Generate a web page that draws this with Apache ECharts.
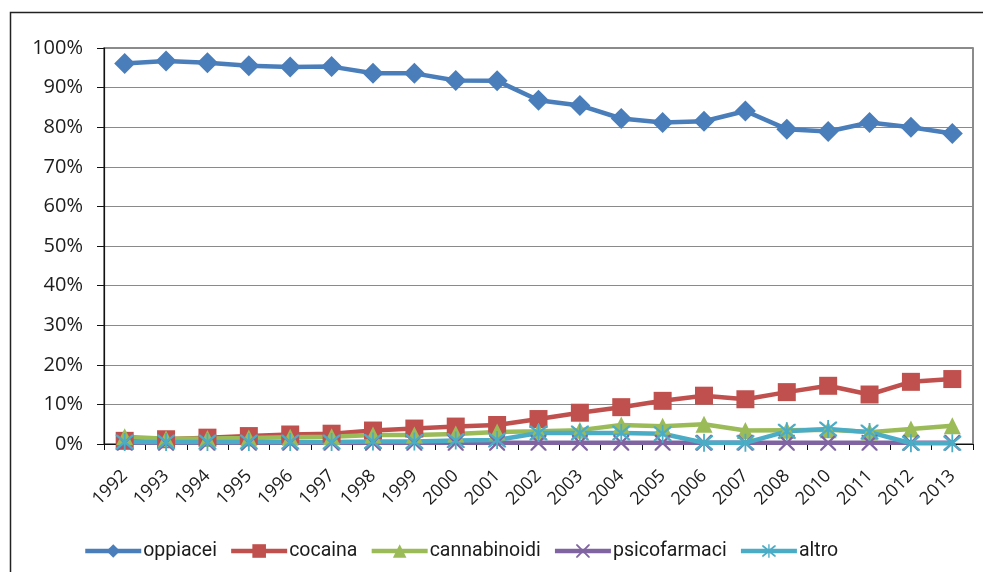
<!DOCTYPE html>
<html>
<head>
<meta charset="utf-8">
<script src="https://cdn.jsdelivr.net/npm/echarts@6/dist/echarts.min.js"></script>
<style>
  html, body { margin: 0; padding: 0; background: #fff; }
  #chart { width: 983px; height: 572px; }
</style>
</head>
<body>
<div id="chart"></div>
<script>
// Years on the category axis (2009 is not present in the series)
const years = ['1992','1993','1994','1995','1996','1997','1998','1999','2000','2001','2002',
               '2003','2004','2005','2006','2007','2008','2010','2011','2012','2013'];

// Share of users by primary substance, percent
const oppiacei     = [96.1, 96.7, 96.3, 95.5, 95.2, 95.3, 93.6, 93.6, 91.8, 91.7, 86.8, 85.5, 82.2, 81.2, 81.5, 84.1, 79.5, 78.9, 81.2, 80.0, 78.4];
const cocaina      = [0.8, 1.2, 1.6, 2.0, 2.4, 2.6, 3.4, 3.9, 4.4, 4.8, 6.3, 7.9, 9.3, 10.9, 12.2, 11.3, 13.1, 14.7, 12.5, 15.7, 16.4];
const cannabinoidi = [1.8, 1.3, 1.4, 1.5, 1.7, 1.8, 2.3, 2.3, 2.5, 3.0, 3.2, 3.5, 4.8, 4.5, 5.0, 3.4, 3.5, 3.6, 3.0, 3.8, 4.6];
const psicofarmaci = [0.3, 0.3, 0.3, 0.3, 0.3, 0.3, 0.3, 0.3, 0.3, 0.3, 0.3, 0.3, 0.3, 0.3, 0.3, 0.3, 0.3, 0.3, 0.3, 0.3, 0.3];
const altro        = [0.5, 0.5, 0.5, 0.5, 0.5, 0.5, 0.6, 0.6, 0.9, 1.0, 2.8, 2.8, 2.8, 2.6, 0.3, 0.3, 3.2, 3.8, 3.0, 0.2, 0.2];

const FONT = 'Open Sans';
const TEXT = '#1c1c1c';

// Marker shapes
const xMark = 'path://M0,0 L2,0 L10,8 L18,0 L20,0 L20,2 L12,10 L20,18 L20,20 L18,20 L10,12 L2,20 L0,20 L0,18 L8,10 L0,2 Z';
const starMark = 'path://M0,0 L2,0 L10,8 L18,0 L20,0 L20,2 L12,10 L20,18 L20,20 L18,20 L10,12 L2,20 L0,20 L0,18 L8,10 L0,2 Z M9,-2 L11,-2 L11,22 L9,22 Z';

function lineSeries(name, data, color, symbol, size) {
  return {
    name: name,
    type: 'line',
    data: data,
    symbol: symbol,
    symbolSize: size,
    showAllSymbol: true,
    lineStyle: { color: color, width: 4.5 },
    itemStyle: { color: color, borderColor: color, borderWidth: 0 },
    emphasis: { disabled: true },
    animation: false
  };
}

const chart = echarts.init(document.getElementById('chart'), null, { renderer: 'canvas' });

chart.setOption({
  backgroundColor: '#ffffff',
  animation: false,
  graphic: [{
    type: 'rect',
    shape: { x: 10.5, y: 12.5, width: 1000, height: 700 },
    style: { fill: 'none', stroke: '#222', lineWidth: 1.5 },
    silent: true
  }],
  grid: {
    left: 104, right: 10, top: 48, bottom: 128,
    show: true, borderColor: '#666', borderWidth: 1.5, backgroundColor: 'transparent'
  },
  legend: {
    left: 78, top: 536,
    itemWidth: 56, itemHeight: 17, itemGap: 12,
    lineStyle: { width: 4.5 },
    textStyle: { fontFamily: 'Roboto', fontSize: 19.5, color: TEXT, padding: [0, 0, 0, -3] },
    data: ['oppiacei', 'cocaina', 'cannabinoidi', 'psicofarmaci', 'altro']
  },
  xAxis: {
    type: 'category',
    data: years,
    boundaryGap: true,
    axisLine: { lineStyle: { color: '#111', width: 1.2 } },
    axisTick: { show: true, length: 6, inside: false, lineStyle: { color: '#111' } },
    axisLabel: { rotate: 45, fontFamily: FONT, fontSize: 18, color: TEXT, margin: 29, interval: 0 },
    splitLine: { show: false }
  },
  yAxis: {
    type: 'value',
    min: 0, max: 100, interval: 10,
    axisLine: { show: true, lineStyle: { color: '#111', width: 1.2 } },
    axisTick: { show: true, length: 7, lineStyle: { color: '#111' } },
    axisLabel: { formatter: '{value}%', fontFamily: FONT, fontSize: 20, color: TEXT, margin: 21 },
    splitLine: { show: true, lineStyle: { color: '#8a8a8a', width: 1.2 } }
  },
  series: [
    lineSeries('oppiacei', oppiacei, '#4a7ebb', 'diamond', 21),
    lineSeries('cocaina', cocaina, '#c0504d', 'rect', 18),
    lineSeries('cannabinoidi', cannabinoidi, '#9bbb59', 'triangle', 17),
    lineSeries('psicofarmaci', psicofarmaci, '#8064a2', xMark, 16),
    lineSeries('altro', altro, '#4bacc6', starMark, 18)
  ]
});
</script>
</body>
</html>
